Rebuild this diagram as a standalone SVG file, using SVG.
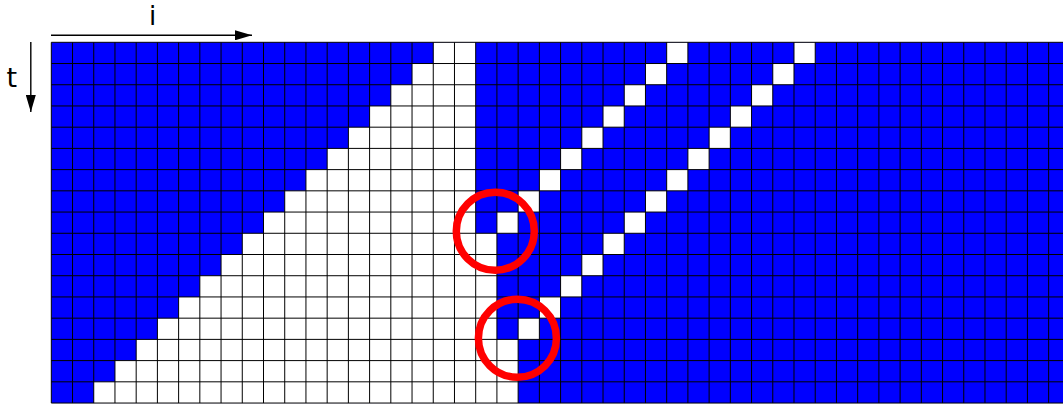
<svg xmlns="http://www.w3.org/2000/svg" width="1063" height="408" viewBox="0 0 1063 408">
  <style>
    .lbl { font-family: "DejaVu Sans", "Liberation Sans", sans-serif; font-size: 27px; fill: #000; }
    .axis { stroke: #000; stroke-width: 1.4; fill: none; }
    .grid { stroke: #000; stroke-width: 1; fill: none; }
    .ring { stroke: #ff0000; stroke-width: 7.5; fill: none; }
  </style>
  <defs>
    <marker id="ah" viewBox="0 0 17 10" refX="17" refY="5" markerWidth="17" markerHeight="10" markerUnits="userSpaceOnUse" orient="auto">
      <path d="M0,0 L17,5 L0,10 Z" fill="#000"/>
    </marker>
  </defs>
  <rect x="0" y="0" width="1063" height="408" fill="#fff"/>

  <g id="cells" transform="translate(51.3,42.3) scale(21.22)">
    <rect x="0" y="0" width="48" height="17" fill="#0000ff"/>
    <path id="white-triangle" fill="#fff" d="M18,0 H20 V9 H21 V14 H22 V17 H2 V16 H3 V15 H4 V14 H5 V13 H6 V12 H7 V11 H8 V10 H9 V9 H10 V8 H11 V7 H12 V6 H13 V5 H14 V4 H15 V3 H16 V2 H17 V1 H18 Z"/>
    <g id="diag1" fill="#fff">
      <rect x="29" y="0" width="1" height="1"/>
      <rect x="28" y="1" width="1" height="1"/>
      <rect x="27" y="2" width="1" height="1"/>
      <rect x="26" y="3" width="1" height="1"/>
      <rect x="25" y="4" width="1" height="1"/>
      <rect x="24" y="5" width="1" height="1"/>
      <rect x="23" y="6" width="1" height="1"/>
      <rect x="22" y="7" width="1" height="1"/>
      <rect x="21" y="8" width="1" height="1"/>
    </g>
    <g id="diag2" fill="#fff">
      <rect x="35" y="0" width="1" height="1"/>
      <rect x="34" y="1" width="1" height="1"/>
      <rect x="33" y="2" width="1" height="1"/>
      <rect x="32" y="3" width="1" height="1"/>
      <rect x="31" y="4" width="1" height="1"/>
      <rect x="30" y="5" width="1" height="1"/>
      <rect x="29" y="6" width="1" height="1"/>
      <rect x="28" y="7" width="1" height="1"/>
      <rect x="27" y="8" width="1" height="1"/>
      <rect x="26" y="9" width="1" height="1"/>
      <rect x="25" y="10" width="1" height="1"/>
      <rect x="24" y="11" width="1" height="1"/>
      <rect x="23" y="12" width="1" height="1"/>
      <rect x="22" y="13" width="1" height="1"/>
    </g>
    <path id="gridlines" class="grid" vector-effect="non-scaling-stroke" d="
      M0,0 H48 M0,1 H48 M0,2 H48 M0,3 H48 M0,4 H48 M0,5 H48 M0,6 H48 M0,7 H48 M0,8 H48
      M0,9 H48 M0,10 H48 M0,11 H48 M0,12 H48 M0,13 H48 M0,14 H48 M0,15 H48 M0,16 H48 M0,17 H48
      M0,0 V17 M1,0 V17 M2,0 V17 M3,0 V17 M4,0 V17 M5,0 V17 M6,0 V17 M7,0 V17 M8,0 V17 M9,0 V17
      M10,0 V17 M11,0 V17 M12,0 V17 M13,0 V17 M14,0 V17 M15,0 V17 M16,0 V17 M17,0 V17 M18,0 V17 M19,0 V17
      M20,0 V17 M21,0 V17 M22,0 V17 M23,0 V17 M24,0 V17 M25,0 V17 M26,0 V17 M27,0 V17 M28,0 V17 M29,0 V17
      M30,0 V17 M31,0 V17 M32,0 V17 M33,0 V17 M34,0 V17 M35,0 V17 M36,0 V17 M37,0 V17 M38,0 V17 M39,0 V17
      M40,0 V17 M41,0 V17 M42,0 V17 M43,0 V17 M44,0 V17 M45,0 V17 M46,0 V17 M47,0 V17 M48,0 V17"/>
  </g>

  <g id="highlights">
    <circle id="ring1" class="ring" cx="495.3" cy="231.2" r="39"/>
    <circle id="ring2" class="ring" cx="517.4" cy="338.2" r="39"/>
  </g>

  <g id="axes">
    <g id="axis-i">
      <line class="axis" x1="51" y1="35.3" x2="252" y2="35.3" marker-end="url(#ah)"/>
      <text class="lbl" x="152.5" y="25" text-anchor="middle" style="font-size:26px">i</text>
    </g>
    <g id="axis-t">
      <line class="axis" x1="30.8" y1="42" x2="30.8" y2="112" marker-end="url(#ah)"/>
      <text class="lbl" x="11.7" y="86.7" text-anchor="middle">t</text>
    </g>
  </g>
</svg>
